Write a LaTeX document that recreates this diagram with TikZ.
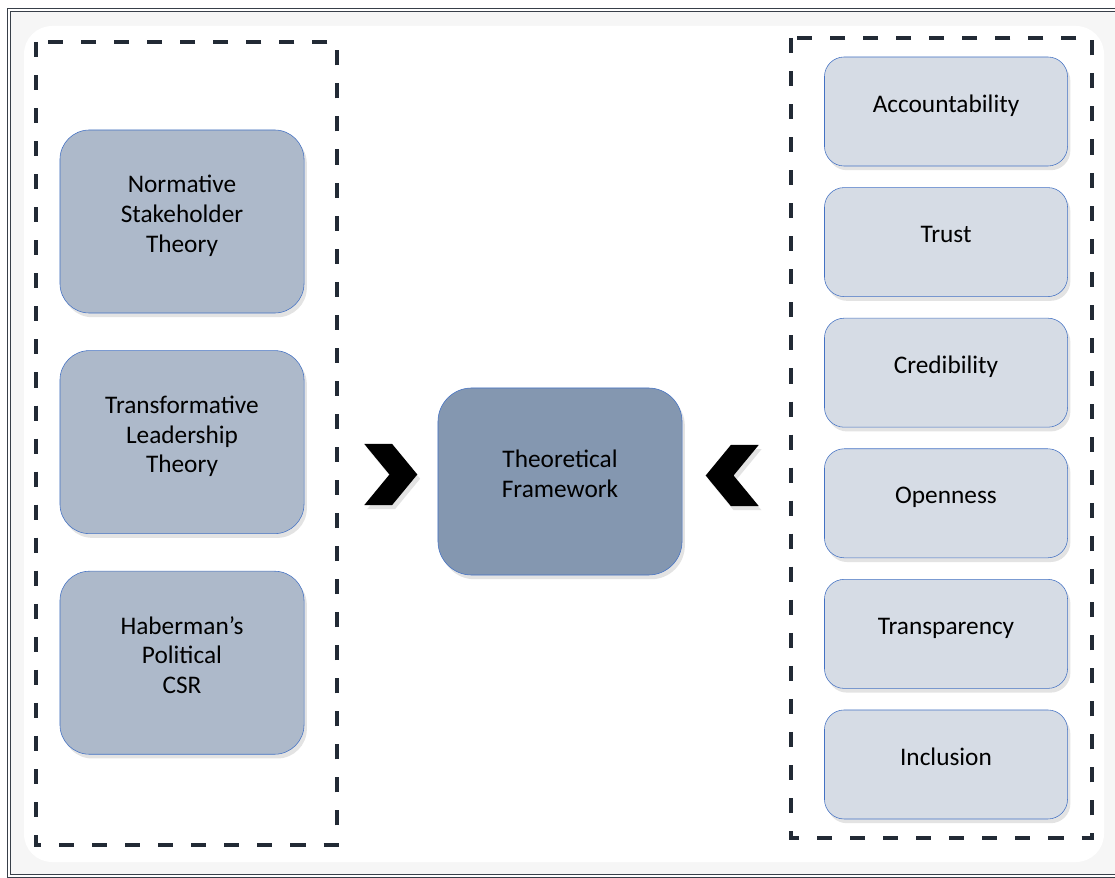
\documentclass[tikz,border=0pt]{standalone}
\usepackage{fontspec}
\setmainfont{Carlito}
\usepackage{tikz}
\usetikzlibrary{positioning, shapes.symbols, shadows}

\definecolor{dashnavy}{HTML}{222A35}
\definecolor{edgeblue}{HTML}{4472C4}
\definecolor{theoryfill}{HTML}{ADB9CA}
\definecolor{valuefill}{HTML}{D6DCE5}
\definecolor{corefill}{HTML}{8497B0}

\begin{document}
\begin{tikzpicture}[x=0.025cm, y=-0.025cm, font=\fontsize{18}{21}\selectfont]
    % Estilos de los bloques
    \tikzstyle{softshadow} = [drop shadow={shadow xshift=2pt, shadow yshift=-3pt, opacity=0.22}]
    \tikzstyle{theory} = [draw=edgeblue, fill=theoryfill, rounded corners=21pt, minimum width=6.1cm, minimum height=4.575cm, align=center, text depth=11pt, softshadow]
    \tikzstyle{value} = [draw=edgeblue, fill=valuefill, rounded corners=14pt, minimum width=6.075cm, minimum height=2.725cm, align=center, text depth=11pt, softshadow]
    \tikzstyle{core} = [draw=edgeblue, fill=corefill, rounded corners=24pt, minimum width=6.1cm, minimum height=4.675cm, align=center, text depth=11pt, softshadow]
    \tikzstyle{chevron} = [signal, fill=black, inner sep=0pt, minimum width=1.325cm, minimum height=1.525cm, signal pointer angle=101, softshadow]
    \tikzstyle{group} = [draw=dashnavy, line width=2.85pt, dash pattern=on 10.7pt off 12.8pt]

    \useasboundingbox (0,0) rectangle (1115,878);

    % Marco
    \fill[gray!7] (9,10) rectangle (1130,876);
    \fill[white, rounded corners=20pt] (24,26) rectangle (1104,862);
    \draw[draw=dashnavy!90, line width=0.8pt, double, double distance=1.3pt] (9,10) rectangle (1130,876);

    % Grupos punteados
    \draw[group] (36,42) rectangle (337,845);
    \draw[group] (791,38) rectangle (1092,838);

    % Teorías (izquierda)
    \node[theory] (nst) at (182,221.5) {Normative\\Stakeholder\\Theory};
    \node[theory, below=0.925cm of nst] (tlt) {Transformative\\Leadership\\Theory};
    \node[theory, below=0.925cm of tlt] (hpc) {Haberman’s\\Political\\CSR};

    % Valores (derecha)
    \node[value] (acc) at (946,111.5) {Accountability};
    \node[value, below=0.525cm of acc] (tru) {Trust};
    \node[value, below=0.525cm of tru] (cre) {Credibility};
    \node[value, below=0.525cm of cre] (ope) {Openness};
    \node[value, below=0.525cm of ope] (tra) {Transparency};
    \node[value, below=0.525cm of tra] (inc) {Inclusion};

    % Marco teórico y flechas
    \node[core] (tf) at (560,481.5) {Theoretical\\Framework};
    \node[chevron, signal from=west, signal to=east, left=0.5cm of tf, yshift=0.175cm] (leftin) {};
    \node[chevron, signal from=east, signal to=west, right=0.575cm of tf, yshift=0.15cm] (rightin) {};

\end{tikzpicture}
\end{document}
